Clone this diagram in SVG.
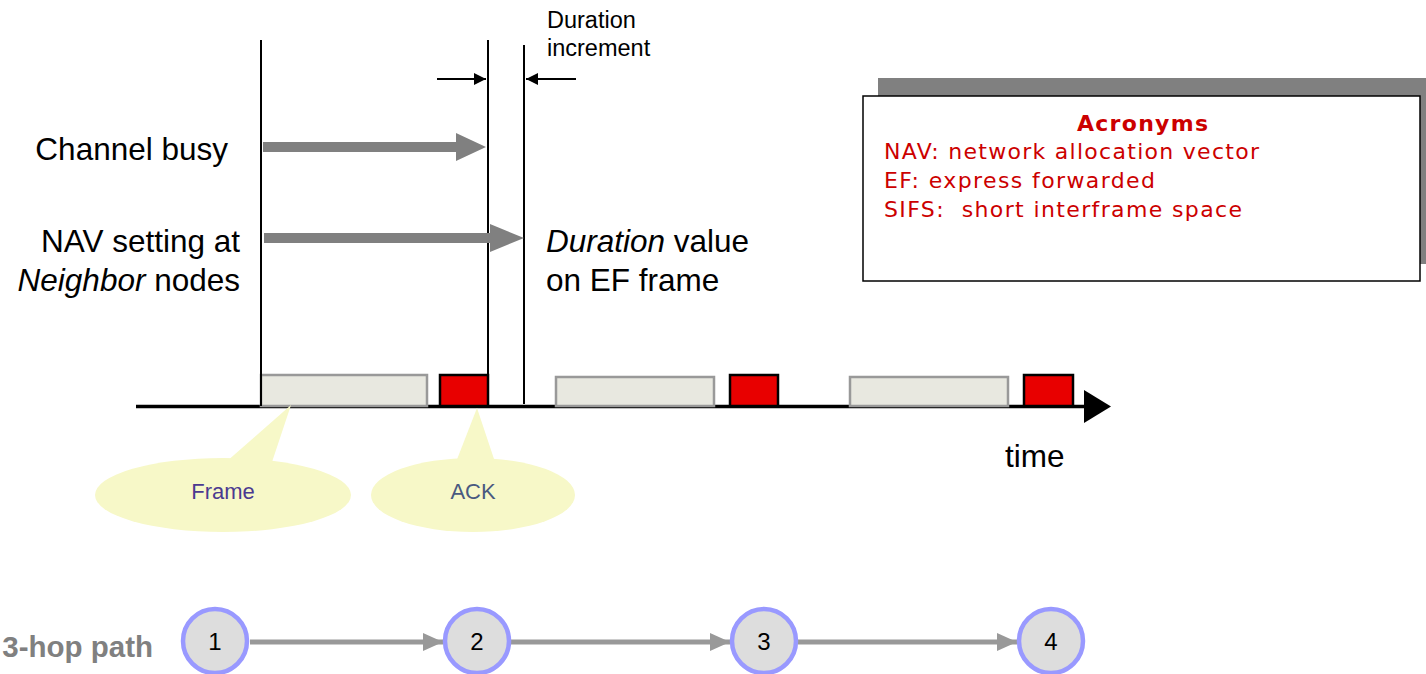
<svg xmlns="http://www.w3.org/2000/svg" width="1426" height="674" viewBox="0 0 1426 674">
<defs>
<style>
.lbl{font-family:"Liberation Sans",Arial,sans-serif;font-size:31.5px;fill:#000}
.sm{font-family:"Liberation Sans",Arial,sans-serif;font-size:23.5px;fill:#000}
.vline{stroke:#000;stroke-width:2;fill:none}
.frame{fill:#e8e8e0;stroke:#999;stroke-width:2.5}
.ack{fill:#e80000;stroke:#000;stroke-width:2.5}
.bubble{fill:#f7f8c8;stroke:none}
.acr{font-family:"DejaVu Sans",Verdana,sans-serif;font-size:22px;fill:#cc0000}
.node circle{fill:#dddddd;stroke:#9999ff;stroke-width:4.5}
.node text{font-family:"Liberation Sans",Arial,sans-serif;font-size:24px;fill:#000;text-anchor:middle}
.hop{stroke:#999;stroke-width:5;fill:none}
</style>
<marker id="hopHead" markerWidth="20" markerHeight="18" refX="20" refY="9" orient="auto" markerUnits="userSpaceOnUse">
<path d="M0,0 L20,9 L0,18 Z" fill="#999"/>
</marker>
<marker id="blkHead" markerWidth="12" markerHeight="12" refX="12" refY="6" orient="auto" markerUnits="userSpaceOnUse">
<path d="M0,0 L12,6 L0,12 Z" fill="#000"/>
</marker>
</defs>
<rect width="1426" height="674" fill="#fff"/>

<!-- timeline -->
<g id="timeline">
<line x1="136" y1="406.5" x2="1086" y2="406.5" stroke="#000" stroke-width="3.5"/>
<path d="M1084,390 L1111,406.5 L1084,423 Z" fill="#000"/>
<text class="lbl" x="1005" y="467">time</text>
</g>

<!-- frames and acks -->
<g id="frame1"><rect class="frame" x="261" y="375" width="166" height="31"/></g>
<g id="ack1"><rect class="ack" x="440" y="375" width="48" height="31"/></g>
<g id="frame2"><rect class="frame" x="556" y="377" width="158" height="29"/></g>
<g id="ack2"><rect class="ack" x="730" y="375" width="48" height="31"/></g>
<g id="frame3"><rect class="frame" x="850" y="377" width="158" height="29"/></g>
<g id="ack3"><rect class="ack" x="1024" y="375" width="49" height="31"/></g>

<!-- vertical markers -->
<g id="markers">
<line class="vline" x1="261" y1="40" x2="261" y2="406"/>
<line class="vline" x1="488" y1="40" x2="488" y2="406"/>
<line class="vline" x1="524" y1="45" x2="524" y2="404"/>
<line x1="437" y1="79" x2="486" y2="79" stroke="#000" stroke-width="2" marker-end="url(#blkHead)"/>
<line x1="576" y1="79" x2="526" y2="79" stroke="#000" stroke-width="2" marker-end="url(#blkHead)"/>
<text class="sm" x="547" y="28">Duration</text>
<text class="sm" x="547" y="56">increment</text>
</g>

<!-- busy / NAV arrows -->
<g id="channel-busy">
<text class="lbl" x="228" y="160" text-anchor="end">Channel busy</text>
<path d="M263,142 L456,142 L456,133 L486,147 L456,161 L456,152 L263,152 Z" fill="#808080"/>
</g>
<g id="nav-setting">
<text class="lbl" x="240" y="252" text-anchor="end">NAV setting at</text>
<text class="lbl" x="240" y="291" text-anchor="end"><tspan font-style="italic">Neighbor</tspan> nodes</text>
<path d="M264,233 L490,233 L490,224 L524,238 L490,252 L490,243 L264,243 Z" fill="#808080"/>
<text class="lbl" x="546" y="252"><tspan font-style="italic">Duration</tspan> value</text>
<text class="lbl" x="546" y="291">on EF frame</text>
</g>

<!-- callouts -->
<g id="callout-frame">
<path class="bubble" d="M226,462 L291,405 L272,462 Z"/>
<ellipse class="bubble" cx="223" cy="495" rx="128" ry="37"/>
<text x="223" y="499" text-anchor="middle" style="font-family:'Liberation Sans',Arial,sans-serif;font-size:22px;fill:#4b3a90">Frame</text>
</g>
<g id="callout-ack">
<path class="bubble" d="M456,462 L477,408 L495,462 Z"/>
<ellipse class="bubble" cx="473" cy="495" rx="102" ry="37"/>
<text x="473" y="499" text-anchor="middle" style="font-family:'Liberation Sans',Arial,sans-serif;font-size:22px;fill:#4a5a80">ACK</text>
</g>

<!-- acronyms box -->
<g id="acronyms">
<rect x="878" y="78" width="560" height="186" fill="#808080"/>
<rect x="863" y="96" width="557" height="185" fill="#fff" stroke="#000" stroke-width="1.5"/>
<text class="acr" x="1077" y="131" font-weight="bold" font-size="23" textLength="131" lengthAdjust="spacing">Acronyms</text>
<text class="acr" x="884" y="159" textLength="375" lengthAdjust="spacing">NAV: network allocation vector</text>
<text class="acr" x="884" y="188" textLength="271" lengthAdjust="spacing">EF: express forwarded</text>
<text class="acr" x="884" y="217" textLength="358" lengthAdjust="spacing" xml:space="preserve">SIFS:  short interframe space</text>
</g>

<!-- path -->
<text x="153" y="657" text-anchor="end" style="font-family:'Liberation Sans',Arial,sans-serif;font-size:29.5px;font-weight:bold;fill:#808080">3-hop path</text>
<g id="hops">
<line class="hop" x1="250" y1="642" x2="443" y2="642" marker-end="url(#hopHead)"/>
<line class="hop" x1="511" y1="642" x2="730" y2="642" marker-end="url(#hopHead)"/>
<line class="hop" x1="798" y1="642" x2="1017" y2="642" marker-end="url(#hopHead)"/>
</g>
<g id="node1" class="node"><circle cx="215" cy="641" r="32"/><text x="215" y="650">1</text></g>
<g id="node2" class="node"><circle cx="477" cy="641" r="32"/><text x="477" y="650">2</text></g>
<g id="node3" class="node"><circle cx="764" cy="641" r="32"/><text x="764" y="650">3</text></g>
<g id="node4" class="node"><circle cx="1051" cy="641" r="32"/><text x="1051" y="650">4</text></g>
</svg>
